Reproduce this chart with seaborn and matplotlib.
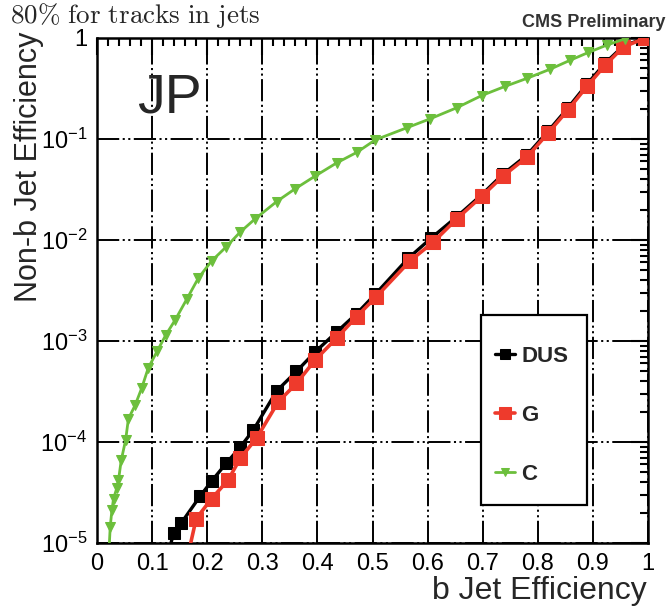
import matplotlib
matplotlib.use("Agg")
import matplotlib.pyplot as plt
import matplotlib.ticker as mticker
from matplotlib.patches import Rectangle
import numpy as np
import pandas as pd
import seaborn as sns

# b-tag efficiency vs. mistag rate for the Jet Probability (JP) tagger
dus_beff = [0.132, 0.139, 0.153, 0.187, 0.208, 0.235, 0.260, 0.284, 0.326, 0.362,
            0.396, 0.435, 0.471, 0.505, 0.565, 0.607, 0.653, 0.698, 0.737, 0.780,
            0.819, 0.855, 0.889, 0.922, 0.955, 0.995]
dus_mistag = [8.9e-6, 1.26e-5, 1.58e-5, 2.9e-5, 4.1e-5, 6.2e-5, 8.9e-5, 1.32e-4, 3.2e-4, 5.0e-4,
              7.8e-4, 1.23e-3, 1.86e-3, 2.9e-3, 6.6e-3, 1.05e-2, 1.7e-2, 2.8e-2, 4.5e-2, 6.9e-2,
              0.12, 0.204, 0.347, 0.562, 0.832, 1.0]

g_beff = [0.168, 0.180, 0.208, 0.238, 0.260, 0.290, 0.329, 0.362, 0.396, 0.435,
          0.471, 0.507, 0.568, 0.610, 0.653, 0.698, 0.737, 0.780, 0.819, 0.855,
          0.889, 0.922, 0.955, 0.995]
g_mistag = [8.9e-6, 1.74e-5, 2.75e-5, 4.2e-5, 6.9e-5, 1.1e-4, 2.5e-4, 3.8e-4, 6.5e-4, 1.07e-3,
            1.74e-3, 2.75e-3, 6.2e-3, 9.5e-3, 1.62e-2, 2.7e-2, 4.3e-2, 6.6e-2, 0.115, 0.195,
            0.331, 0.537, 0.813, 1.0]

c_beff = [0.022, 0.024, 0.027, 0.030, 0.036, 0.039, 0.044, 0.052, 0.057, 0.069,
          0.081, 0.093, 0.109, 0.125, 0.142, 0.163, 0.184, 0.208, 0.234, 0.260,
          0.287, 0.326, 0.359, 0.396, 0.435, 0.472, 0.505, 0.562, 0.604, 0.653,
          0.698, 0.740, 0.780, 0.822, 0.858, 0.892, 0.925, 0.958]
c_mistag = [8.9e-6, 1.45e-5, 2.1e-5, 2.75e-5, 3.5e-5, 4.2e-5, 6.6e-5, 1.05e-4, 1.7e-4, 2.3e-4,
            3.4e-4, 5.4e-4, 7.9e-4, 1.15e-3, 1.62e-3, 2.6e-3, 4.2e-3, 6.2e-3, 8.5e-3, 1.2e-2,
            1.62e-2, 2.4e-2, 3.2e-2, 4.3e-2, 5.8e-2, 7.4e-2, 9.8e-2, 0.129, 0.158, 0.204,
            0.269, 0.331, 0.398, 0.49, 0.60, 0.72, 0.85, 0.98]

flavours = ["DUS", "G", "C"]
x_ticks = [0, 0.1, 0.2, 0.3, 0.4, 0.5, 0.6, 0.7, 0.8, 0.9, 1]
x_ticklabels = ["0", "0.1", "0.2", "0.3", "0.4", "0.5", "0.6", "0.7", "0.8", "0.9", "1"]
y_ticks = [1e-5, 1e-4, 1e-3, 1e-2, 1e-1, 1]
y_ticklabels = [r"$10^{-5}$", r"$10^{-4}$", r"$10^{-3}$", r"$10^{-2}$", r"$10^{-1}$", "1"]

sns.set_style("white")
plt.rcParams["font.family"] = ["Liberation Sans", "DejaVu Sans"]
plt.rcParams["mathtext.fontset"] = "custom"
plt.rcParams["mathtext.rm"] = "Liberation Sans"
plt.rcParams["mathtext.it"] = "Liberation Sans:italic"
plt.rcParams["mathtext.bf"] = "Liberation Sans:bold"
plt.rcParams["lines.scale_dashes"] = False

df = pd.concat([
    pd.DataFrame({"beff": dus_beff, "mistag": dus_mistag, "flavour": "DUS"}),
    pd.DataFrame({"beff": g_beff, "mistag": g_mistag, "flavour": "G"}),
    pd.DataFrame({"beff": c_beff, "mistag": c_mistag, "flavour": "C"}),
], ignore_index=True)

styles = {
    "DUS": dict(color="black", marker="s", ms=8.5, lw=2.4),
    "G": dict(color="#ee3a2c", marker="s", ms=9.5, lw=2.6),
    "C": dict(color="#6cbf3c", marker="v", ms=7.5, lw=2.0),
}

fig = plt.figure(figsize=(6.67, 6.10), dpi=100)
ax = fig.add_axes([97 / 667, 67 / 610, 551 / 667, 505 / 610])

for fl in flavours:
    st = styles[fl]
    sub = df[df["flavour"] == fl]
    sns.lineplot(data=sub, x="beff", y="mistag", ax=ax, sort=False, estimator=None,
                 color=st["color"], linewidth=st["lw"], marker=st["marker"],
                 markersize=st["ms"], markeredgecolor=st["color"],
                 markerfacecolor=st["color"], markevery=slice(1, None),
                 label=fl, legend=False, zorder=3)

ax.set_yscale("log")
ax.set_xlim(0, 1)
ax.set_ylim(1e-5, 1)

ax.set_xticks(x_ticks)
ax.set_xticklabels(x_ticklabels)
ax.xaxis.set_minor_locator(mticker.MultipleLocator(0.02))
ax.set_yticks(y_ticks)
ax.set_yticklabels(y_ticklabels)
ax.yaxis.set_minor_locator(mticker.LogLocator(base=10, subs=np.arange(2, 10), numticks=20))
ax.yaxis.set_minor_formatter(mticker.NullFormatter())

ax.tick_params(which="both", direction="in", top=True, right=True, width=1.5, colors="black")
ax.tick_params(which="major", length=12, labelsize=17)
ax.tick_params(which="minor", length=6)
ax.tick_params(axis="x", which="major", pad=7)
ax.tick_params(axis="y", which="major", pad=7)

for sp in ax.spines.values():
    sp.set_linewidth(1.8)
    sp.set_color("black")

ax.grid(True, which="major", color="black", linewidth=1.4,
        linestyle=(0, (16, 2.5, 1.5, 2.5, 1.5, 2.5)))
ax.set_axisbelow(True)

ax.set_xlabel("b Jet Efficiency", fontsize=23, loc="right")
ax.xaxis.set_label_coords(0.998, -0.066)
ax.set_ylabel("Non-b Jet Efficiency", fontsize=22, loc="top")
ax.yaxis.set_label_coords(-0.097, 1.012)

ax.text(0.073, 0.853, "JP", transform=ax.transAxes, fontsize=40, ha="left",
        va="baseline", zorder=5)

# legend box
ax.add_patch(Rectangle((0.697, 0.075), 0.192, 0.376, transform=ax.transAxes,
                       facecolor="white", edgecolor="black", linewidth=1.6, zorder=4))
leg = ax.legend(loc="upper left", bbox_to_anchor=(0.703, 0.413), frameon=False,
                borderpad=0, handlelength=0.9, handletextpad=0.25, labelspacing=1.72,
                prop={"size": 16, "weight": "bold"}, markerscale=0.85)
leg.set_zorder(6)

fig.text(10 / 667, 1 - 22.5 / 610, r"$\mathrm{80\%\ for\ tracks\ in\ jets}$",
         fontsize=19.5, ha="left", va="baseline", math_fontfamily="cm")
fig.text(666 / 667, 1 - 27 / 610, "CMS Preliminary", fontsize=13, fontweight="bold",
         color="#333333", ha="right", va="baseline")

fig.savefig("out.png", dpi=100)
